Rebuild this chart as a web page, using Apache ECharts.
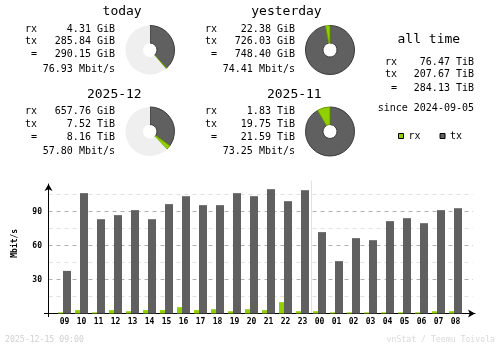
<!DOCTYPE html>
<html><head><meta charset="utf-8">
<script src="https://cdn.jsdelivr.net/npm/echarts@6/dist/echarts.min.js"></script>
<style>html,body{margin:0;padding:0;background:#fff}#c{width:500px;height:348px}</style>
</head><body><div id="c"></div><script>
// ---- data ----
const hours = ['09','10','11','12','13','14','15','16','17','18','19','20','21','22','23','00','01','02','03','04','05','06','07','08'];
const rxRate = [1,3,1,3,2,3,3,5.6,3,3.8,2,3.8,3,10,2,2,1,1,1,1,1,1,2,2];
const txRate = [37.6,106.2,83.2,86.8,91.2,83.2,96.5,103.5,95.6,95.6,106.2,103.5,109.7,99.1,108.8,71.8,46.2,66.5,64.7,81.5,84.1,79.7,91.2,92.9];
const yTickLabels = ['30','60','90'];
const yLabel = 'Mbit/s';
const dayBreakIndex = 15; // '00' starts the new day

const rowLabels = ['rx','tx','='];
const todayTitle = 'today';
const todayText = ['4.31 GiB','285.84 GiB','290.15 GiB','76.93 Mbit/s'];
const yesterdayTitle = 'yesterday';
const yesterdayText = ['22.38 GiB','726.03 GiB','748.40 GiB','74.41 Mbit/s'];
const monthTitle = '2025-12';
const monthText = ['657.76 GiB','7.52 TiB','8.16 TiB','57.80 Mbit/s'];
const prevMonthTitle = '2025-11';
const prevMonthText = ['1.83 TiB','19.75 TiB','21.59 TiB','73.25 Mbit/s'];
const allTimeTitle = 'all time';
const allTimeText = ['76.47 TiB','207.67 TiB','284.13 TiB'];
const sinceText = 'since 2024-09-05';

// pie values (rx, tx)
const todayGiB = [4.31, 285.84];
const yesterdayGiB = [22.38, 726.03];
const monthTiB = [0.64, 7.52];
const prevMonthTiB = [1.83, 19.75];

const footerLeft = '2025-12-15 09:00';
const footerRight = 'vnStat / Teemu Toivola';

// ---- styles ----
const RX = '#92cf00', TX = '#606060';
const MONO = '"DejaVu Sans Mono", monospace';

const chart = echarts.init(document.getElementById('c'), null, {renderer:'canvas'});

function txt(text, x, y, align, font, fill, extra) {
  return Object.assign({type:'text', x:x, y:y, silent:true,
    style:{text:text, font:font || ('10px ' + MONO), fill:fill || '#000', align:align, verticalAlign:'middle'}}, extra || {});
}
function block(title, values, dx, dy) {
  const els = [];
  els.push(txt(title, 141.7 + dx, 12 + dy, 'right', '13px ' + MONO));
  const ys = [29.3, 41.5, 54.7];
  for (let i = 0; i < 3; i++) {
    els.push(txt(rowLabels[i], 37 + dx, ys[i] + dy, 'right'));
    els.push(txt(values[i], 115 + dx, ys[i] + dy, 'right'));
  }
  els.push(txt(values[3], 115 + dx, 69.2 + dy, 'right'));
  return els;
}
let graphics = [];
graphics = graphics.concat(block(todayTitle, todayText, 0, 0));
graphics = graphics.concat(block(yesterdayTitle, yesterdayText, 180, 0));
graphics = graphics.concat(block(monthTitle, monthText, 0, 82.5));
graphics = graphics.concat(block(prevMonthTitle, prevMonthText, 180, 82.5));
graphics.push(txt(allTimeTitle, 428.8, 39.3, 'center', '13px ' + MONO));
const atY = [62.3, 74, 88];
for (let i = 0; i < 3; i++) {
  graphics.push(txt(rowLabels[i], 397, atY[i], 'right'));
  graphics.push(txt(allTimeText[i], 474, atY[i], 'right'));
}
graphics.push(txt(sinceText, 474, 108.3, 'right'));
graphics.push(txt(yLabel, 14.5, 243.3, 'center', 'bold 8px ' + MONO, '#000', {rotation: Math.PI/2}));
graphics.push(txt(footerLeft, 5, 340, 'left', '8.2px ' + MONO, '#d0d0d0'));
graphics.push(txt(footerRight, 495, 340, 'right', '8.2px ' + MONO, '#dadada'));

function pie(center, rxTx, refTotal) {
  const total = rxTx[0] + rxTx[1];
  const rest = Math.max(0, refTotal - total);
  return {
    type:'pie', center:center, radius:[7, 24.5], startAngle:90, clockwise:true,
    silent:true, animation:false, label:{show:false}, labelLine:{show:false},
    avoidLabelOverlap:false, emphasis:{disabled:true},
    data:[
      {value:rxTx[1], itemStyle:{color:TX, borderColor:'#3a3a3a', borderWidth:1}},
      {value:rxTx[0], itemStyle:{color:RX, borderColor:'#6a9a00', borderWidth:1}},
      {value:rest, itemStyle:{color:'#efefef', borderWidth:0}}
    ]
  };
}
const yesterdayTotal = yesterdayGiB[0] + yesterdayGiB[1];
const prevMonthTotal = prevMonthTiB[0] + prevMonthTiB[1];

const K = 34/30; // px per Mbit/s (reference scale)
const option = {
  animation:false,
  backgroundColor:'#fff',
  legend:{
    data:['rx','tx'], left:398, top:130, padding:0, itemWidth:5, itemHeight:5, itemGap:19,
    icon:'rect', selectedMode:false,
    itemStyle:{borderColor:'#000', borderWidth:1},
    textStyle:{fontFamily:MONO, fontSize:10, color:'#000', lineHeight:12}
  },
  grid:[
    {left:56, width:408, top:180.5, height:133},
    {left:48.5, width:424.5, top:194.5, height:119},
    {left:48.5, width:426.5, top:184, height:129.5}
  ],
  xAxis:[
    {gridIndex:0, type:'category', data:hours, boundaryGap:true,
     axisLine:{show:false}, axisTick:{show:false},
     axisLabel:{color:'#000', fontFamily:MONO, fontSize:8, fontWeight:'bold', margin:4, interval:0},
     splitLine:{show:false}},
    {gridIndex:1, type:'value', min:0, max:1, show:false},
    {gridIndex:2, type:'value', min:0, max:1, position:'bottom',
     axisLine:{show:true, symbol:['none','arrow'], symbolSize:[6,7], lineStyle:{color:'#000', width:1}},
     axisTick:{show:true, customValues:[0], length:3.5, lineStyle:{color:'#000'}},
     axisLabel:{show:false}, splitLine:{show:false}},
    {gridIndex:0, type:'value', min:0, max:hours.length, interval:dayBreakIndex, position:'top',
     axisLine:{show:false}, axisTick:{show:false}, axisLabel:{show:false},
     splitLine:{show:true, lineStyle:{color:['rgba(0,0,0,0)','#e2e2e2','rgba(0,0,0,0)'], width:1}}}
  ],
  yAxis:[
    {gridIndex:0, type:'value', min:0, max:133/K, show:false},
    {gridIndex:1, type:'value', min:0, max:105, interval:15,
     axisLine:{show:false}, axisTick:{show:false},
     axisLabel:{color:'#000', fontFamily:MONO, fontSize:8, fontWeight:'bold', margin:6.5,
       formatter:function(v){return yTickLabels.indexOf(String(v))>=0 ? String(v) : '';}},
     splitLine:{show:true, lineStyle:{color:['#b0b0b0','#e0e0e0'], type:[4,4], width:1}}},
    {gridIndex:2, type:'value', min:0, max:1,
     axisLine:{show:true, symbol:['none','arrow'], symbolSize:[6,7], lineStyle:{color:'#000', width:1}},
     axisTick:{show:true, customValues:[0], length:4.5, lineStyle:{color:'#000'}},
     axisLabel:{show:false}, splitLine:{show:false}}
  ],
  series:[
    {name:'rx', type:'bar', xAxisIndex:0, yAxisIndex:0, data:rxRate, barWidth:5, barGap:'0%',
     itemStyle:{color:RX}, silent:true},
    {name:'tx', type:'bar', xAxisIndex:0, yAxisIndex:0, data:txRate, barWidth:8, barGap:'0%',
     itemStyle:{color:TX}, silent:true},
    pie([150,50], todayGiB, yesterdayTotal),
    pie([330,50], yesterdayGiB, yesterdayTotal),
    pie([150,131.5], monthTiB, prevMonthTotal),
    pie([330,131.5], prevMonthTiB, prevMonthTotal)
  ],
  graphic:graphics
};
chart.setOption(option);
</script></body></html>
